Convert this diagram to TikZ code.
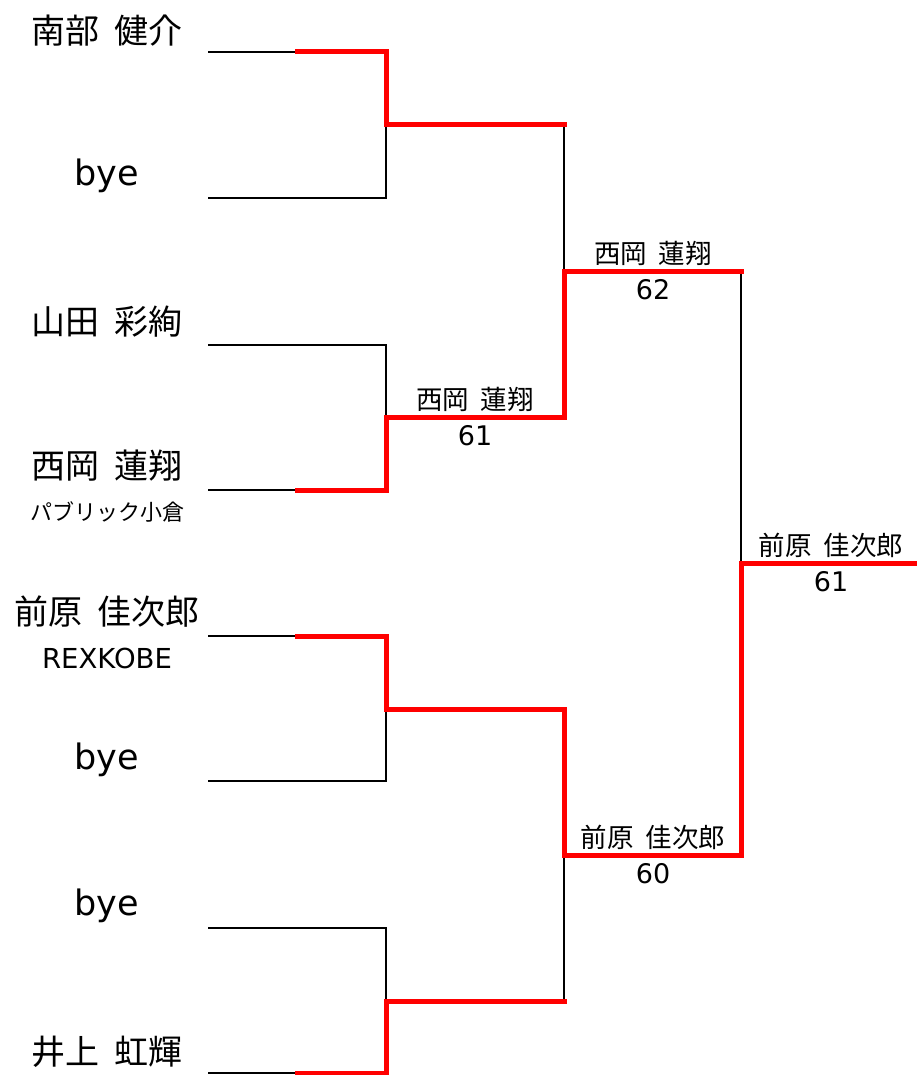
\documentclass[tikz,border=0pt]{standalone}
\usepackage{fontspec}
\newfontfamily\jp{Noto Sans CJK JP}
\newfontfamily\lat{DejaVu Sans}
\begin{document}
\begin{tikzpicture}[x=1pt,y=-1pt,
  blk/.style={draw=black,line width=2.8pt,line cap=rect,line join=miter},
  red/.style={draw=red,line width=5pt,line cap=rect,line join=miter},
  bigname/.style={inner sep=0pt,font=\jp\fontsize{34}{38}\selectfont},
  bigbye/.style={inner sep=0pt,font=\lat\fontsize{35}{40}\selectfont},
  team/.style={inner sep=0pt,font=\jp\fontsize{22}{26}\selectfont},
  teamlat/.style={inner sep=0pt,font=\lat\fontsize{27.5}{32}\selectfont},
  wname/.style={inner sep=0pt,font=\jp\fontsize{26.5}{30}\selectfont},
  score/.style={inner sep=0pt,font=\lat\fontsize{27}{30}\selectfont}]
\useasboundingbox (0,0) rectangle (917,1075);
% coordinates
\foreach \i/\y in {1/52,2/198,3/345,4/490,5/636,6/781,7/928,8/1073}{
  \coordinate (l\i) at (209,\y);
  \coordinate (m\i) at (297,\y);
  \coordinate (j\i) at (386,\y);
}
\coordinate (a1) at (386,125);
\coordinate (a2) at (386,417);
\coordinate (a3) at (386,709);
\coordinate (a4) at (386,1001);
\coordinate (s1) at (564,125);
\coordinate (s2) at (564,417);
\coordinate (s3) at (564,709);
\coordinate (s4) at (564,1001);
\coordinate (t1) at (564,271);
\coordinate (t2) at (564,855);
\coordinate (u1) at (741,271);
\coordinate (u2) at (741,855);
\coordinate (v) at (741,563);
\coordinate (w) at (917,563);
% black lines
\draw[blk] (l1) -- (m1);
\draw[blk] (l2) -- (j2) -- (a1);
\draw[blk] (l3) -- (j3) -- (a2);
\draw[blk] (l4) -- (m4);
\draw[blk] (l5) -- (m5);
\draw[blk] (l6) -- (j6) -- (a3);
\draw[blk] (l7) -- (j7) -- (a4);
\draw[blk] (l8) -- (m8);
\draw[blk] (s1) -- (t1);
\draw[blk] (t2) -- (s4);
\draw[blk] (u1) -- (v);
% red lines
\draw[red] (m1) -- (j1) -- (a1) -- (s1);
\draw[red] (m4) -- (j4) -- (a2) -- (s2) -- (t1) -- (u1);
\draw[red] (m5) -- (j5) -- (a3) -- (s3) -- (t2) -- (u2) -- (v) -- ([xshift=3pt]w);
\draw[red] (m8) -- (j8) -- (a4) -- (s4);
% left names
\node[bigname] (n1) at (107,31) {南部\hspace{0.45em}健介};
\node[bigbye] (n2) at (107,176) {bye};
\node[bigname] (n3) at (107,322) {山田\hspace{0.45em}彩絢};
\node[bigname] (n4) at (107,466) {西岡\hspace{0.45em}蓮翔};
\node[team] (c4) at (107,512) {パブリック小倉};
\node[bigname] (n5) at (107,612) {前原\hspace{0.45em}佳次郎};
\node[teamlat] (c5) at (107,658) {REXKOBE};
\node[bigbye] (n6) at (107,760) {bye};
\node[bigbye] (n7) at (107,906) {bye};
\node[bigname] (n8) at (107,1052) {井上\hspace{0.45em}虹輝};
% winners
\node[wname] (w1) at (475,399) {西岡\hspace{0.45em}蓮翔};
\node[score] (p1) at (475,436) {61};
\node[wname] (w2) at (653,253) {西岡\hspace{0.45em}蓮翔};
\node[score] (p2) at (653,290) {62};
\node[wname] (w3) at (653,837) {前原\hspace{0.45em}佳次郎};
\node[score] (p3) at (653,874) {60};
\node[wname] (w4) at (831,545) {前原\hspace{0.45em}佳次郎};
\node[score] (p4) at (831,582) {61};
\end{tikzpicture}
\end{document}
